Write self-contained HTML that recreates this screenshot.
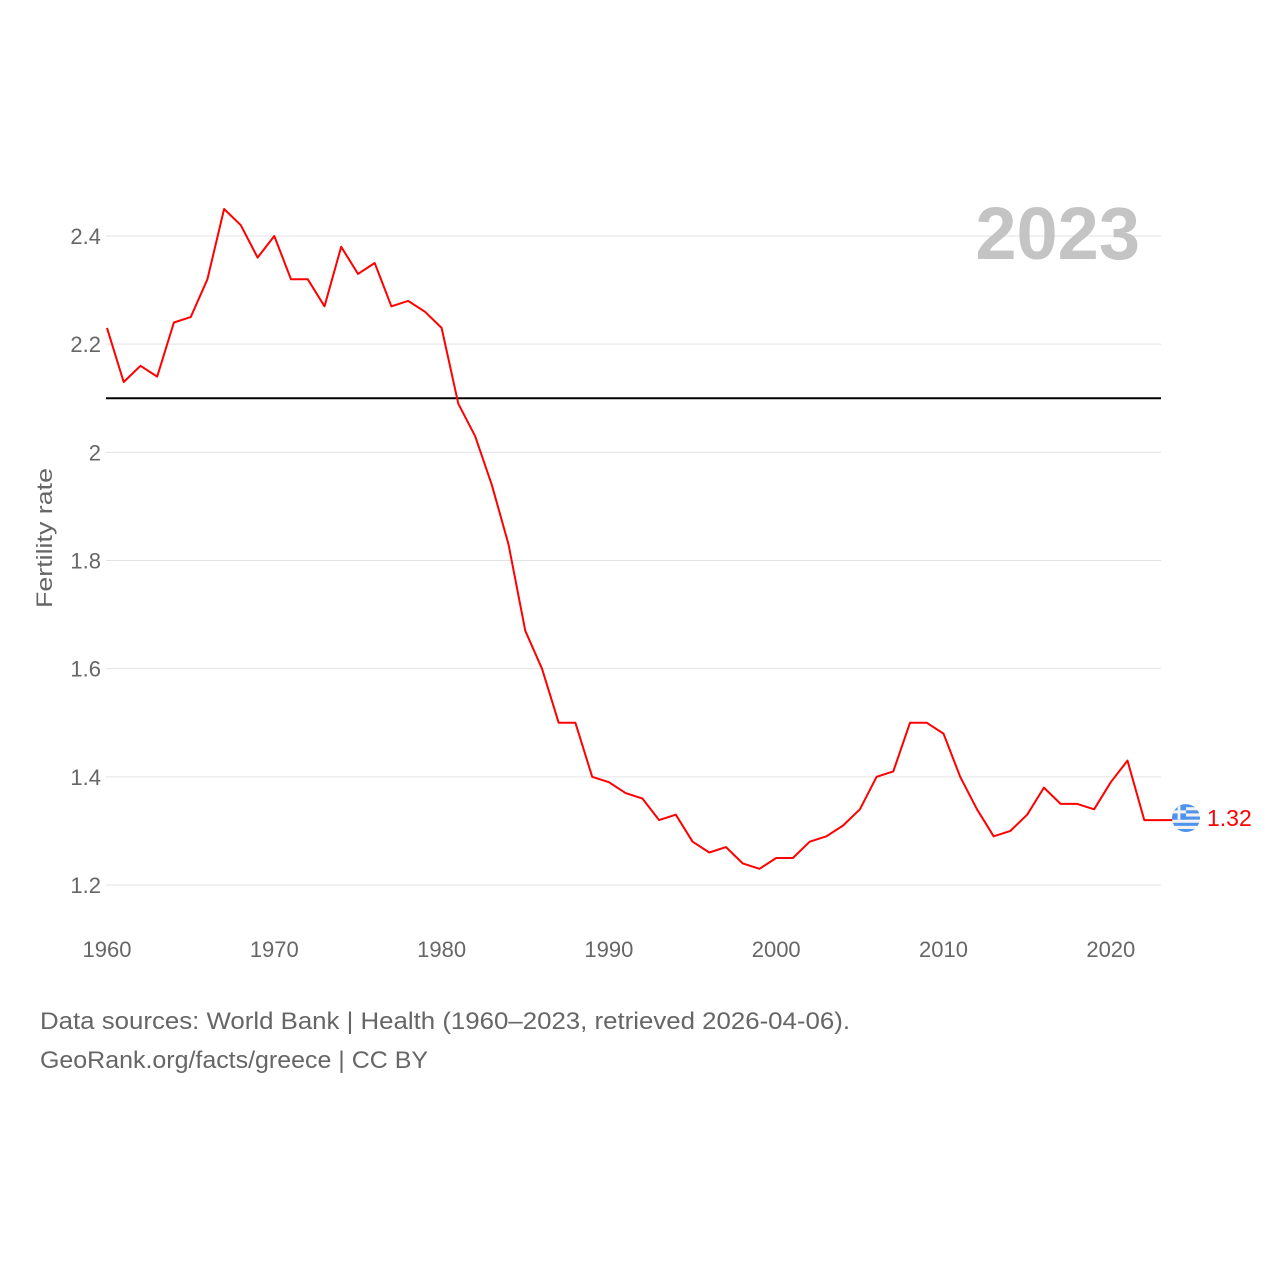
<!DOCTYPE html>
<html><head><meta charset="utf-8"><style>
html,body{margin:0;padding:0;background:#fff;}
svg{display:block;font-family:"Liberation Sans",sans-serif;}
</style></head><body>
<svg id="chart" width="1280" height="1280" viewBox="0 0 1280 1280">
<g id="grid"></g>
<g id="yticks"></g>
<g id="xticks"></g>
<text x="52" y="538" transform="rotate(-90 52 538)" text-anchor="middle" font-size="22" fill="#666" textLength="140" lengthAdjust="spacingAndGlyphs">Fertility rate</text>
<text x="1140" y="259" text-anchor="end" font-size="74" font-weight="bold" fill="#c4c4c4">2023</text>
<g id="plot"></g>
<text x="40" y="1029" font-size="24" fill="#666" textLength="810" lengthAdjust="spacingAndGlyphs">Data sources: World Bank | Health (1960–2023, retrieved 2026-04-06).</text>
<text x="40" y="1068" font-size="24" fill="#666" textLength="388" lengthAdjust="spacingAndGlyphs">GeoRank.org/facts/greece | CC BY</text>
</svg>
<script>
const years = [];
for (let y = 1960; y <= 2023; y++) years.push(y);
const values = [2.23,2.13,2.16,2.14,2.24,2.25,2.32,2.45,2.42,2.36,2.40,2.32,2.32,2.27,2.38,2.33,2.35,2.27,2.28,2.26,
2.23,2.09,2.03,1.94,1.83,1.67,1.60,1.50,1.50,1.40,1.39,1.37,1.36,1.32,1.33,1.28,1.26,1.27,1.24,1.23,
1.25,1.25,1.28,1.29,1.31,1.34,1.40,1.41,1.50,1.50,1.48,1.40,1.34,1.29,1.30,1.33,1.38,1.35,1.35,1.34,
1.39,1.43,1.32,1.32];
const yTicks = [1.2,1.4,1.6,1.8,2,2.2,2.4];
const yTickLabels = ["1.2","1.4","1.6","1.8","2","2.2","2.4"];
const xTicks = [1960,1970,1980,1990,2000,2010,2020];
const refValue = 2.1;

const ns = "http://www.w3.org/2000/svg";
const X = yr => 107 + (yr - 1960) * (1161 - 107) / 63;
const Y = v => 885 - (v - 1.2) * (885 - 236) / 1.2;
function mk(tag, attrs, parent){const e=document.createElementNS(ns,tag);for(const k in attrs)e.setAttribute(k,attrs[k]);parent.appendChild(e);return e;}
const grid=document.getElementById('grid'), yt=document.getElementById('yticks'), xt=document.getElementById('xticks'), plot=document.getElementById('plot');
yTicks.forEach((v,i)=>{
  const l=mk('line',{x1:106,x2:1161,y1:Y(v),y2:Y(v),stroke:'#e3e3e3','stroke-width':1},grid);
  
  
  const t=mk('text',{x:101,y:Y(v)+8,'text-anchor':'end','font-size':22,fill:'#666'},yt);
  t.textContent=yTickLabels[i];
  
  
});
xTicks.forEach(yr=>{
  const t=mk('text',{x:X(yr),y:957,'text-anchor':'middle','font-size':22,fill:'#666'},xt);
  t.textContent=String(yr);
  
  
});
const ref=mk('line',{x1:106,x2:1161,y1:Y(refValue),y2:Y(refValue),stroke:'#000','stroke-width':2},plot);


const pts=years.map((yr,i)=>X(yr).toFixed(1)+','+Y(values[i]).toFixed(1)).join(' ');
const line=mk('polyline',{points:pts,fill:'none',stroke:'#ff0000','stroke-width':2,'stroke-linejoin':'round'},plot);


const lastV=values[values.length-1], lx=X(years[years.length-1]), ly=Y(lastV);
const conn=mk('line',{x1:lx,x2:lx+12,y1:ly,y2:ly,stroke:'#ff0000','stroke-width':2},plot);


const fx=lx+25, fy=ly-2;
const defs=mk('defs',{},plot);
const cp=mk('clipPath',{id:'fc'},defs);
mk('circle',{cx:fx,cy:fy,r:14},cp);
const flag=mk('g',{'clip-path':'url(#fc)'},plot);


for(let i=0;i<9;i++){mk('rect',{x:fx-14,y:fy-14+i*28/9,width:28,height:28/9+0.3,fill:i%2?'#f2f2f2':'#4d94ea'},flag);}
mk('rect',{x:fx-14,y:fy-14,width:14,height:28*5/9,fill:'#4d94ea'},flag);
mk('rect',{x:fx-14,y:fy-14+28*2/9,width:14,height:28/9,fill:'#f2f2f2'},flag);
mk('rect',{x:fx-14+14*2/5,y:fy-14,width:14/5,height:28*5/9,fill:'#f2f2f2'},flag);
const lbl=mk('text',{x:fx+21,y:fy+8,'font-size':23,fill:'#ff0000'},plot);
lbl.textContent=lastV.toFixed(2);


</script>
</body></html>
